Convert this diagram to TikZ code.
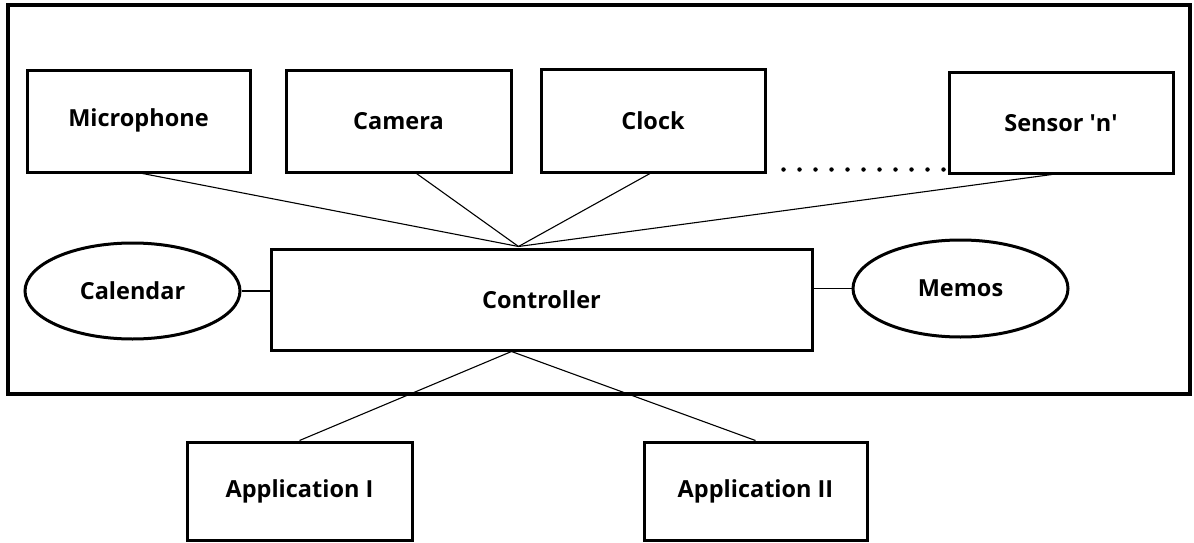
\documentclass[tikz,border=0pt]{standalone}
\usepackage{fontspec}
\setmainfont{Open Sans}
\usetikzlibrary{shapes.geometric,calc}
\tikzset{
  txt/.style={font=\fontsize{23.5}{28}\selectfont\bfseries},
  box/.style={draw, line width=3pt, rectangle, inner sep=0pt, txt},
  oval/.style={draw, line width=3pt, ellipse, inner sep=0pt, txt},
  wire/.style={line width=1.1pt},
  frame/.style={draw, line width=3.5pt, inner sep=0pt},
  dot/.style={fill, circle, inner sep=0pt, minimum size=4.5pt}
}
\begin{document}
\begin{tikzpicture}[x=1pt,y=-1pt]
\useasboundingbox (0,0) rectangle (1194,543);
% outer frame
\node[frame, minimum width=1182, minimum height=389] (sys) at (599,199.5) {};
% sensors
\node[box, minimum width=223, minimum height=101] (mic) at (138.5,121.5) {\raisebox{7pt}{Microphone}};
\node[box, minimum width=225, minimum height=101] (cam) at (398.5,121.5) {Camera};
\node[box, minimum width=224, minimum height=102] (clk) at (653,121) {Clock};
\node[box, minimum width=224, minimum height=100] (sen) at (1061,123) {Sensor \textquotesingle n\textquotesingle};
% controller and stores
\node[box, minimum width=541, minimum height=101] (ctl) at (541.5,299.5) {Controller};
\node[oval, minimum width=215, minimum height=96] (cal) at (132.5,291) {Calendar};
\node[oval, minimum width=215, minimum height=97] (mem) at (960.5,288.5) {Memos};
% applications
\node[box, minimum width=225, minimum height=98] (ap1) at (299.5,491) {Application I};
\node[box, minimum width=223, minimum height=98] (ap2) at (755.5,491) {Application II};
% hub points
\coordinate (hub) at ($(ctl.north)+(-23,-1)$);
\coordinate (hubB) at ($(ctl.south)+(-30,0)$);
% connectors
\draw[wire] ($(mic.south)+(4,0)$) -- (hub);
\draw[wire] ($(cam.south)+(18,0)$) -- (hub);
\draw[wire] ($(clk.south)+(-3,0)$) -- (hub);
\draw[wire] ($(sen.south)+(-9,0)$) -- (hub);
\draw[wire] (cal.east) -- (cal.east -| ctl.west);
\draw[wire] (mem.west) -- (mem.west -| ctl.east);
\draw[wire] (hubB) -- (ap1.north);
\draw[wire] (hubB) -- (ap2.north);
% dotted continuation
\coordinate (dstart) at ($(clk.south east)+(17,-4)$);
\foreach \i in {0,...,10} {
  \node[dot] (d\i) at ($(dstart)+(16*\i,0)$) {};
}
\end{tikzpicture}
\end{document}
